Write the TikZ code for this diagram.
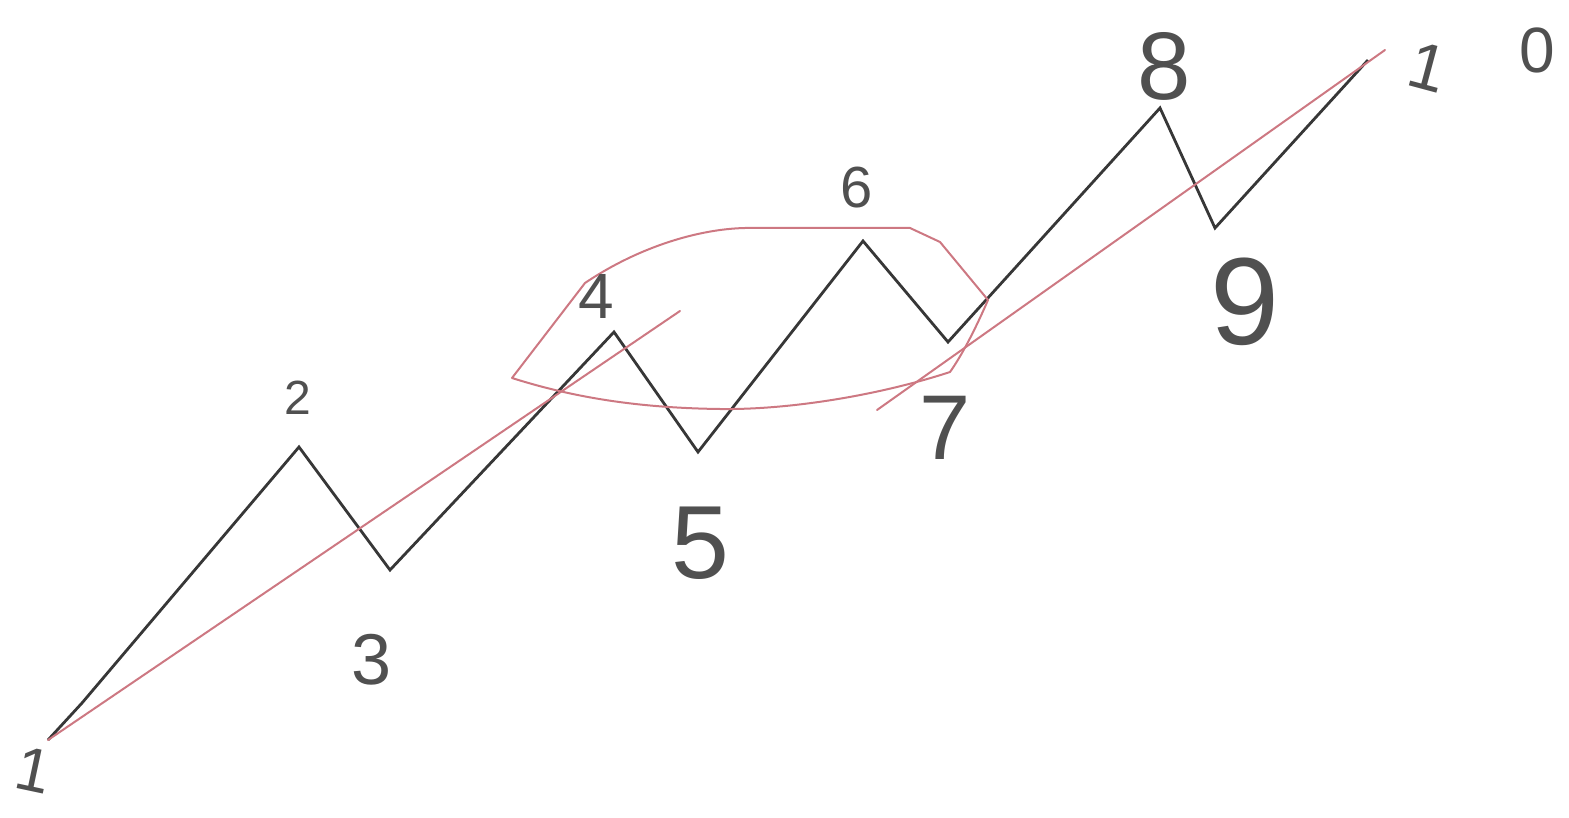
\documentclass[tikz,border=0pt]{standalone}
\usepackage{fontspec}
\setmainfont{Liberation Sans}
\definecolor{pen}{RGB}{55,55,55}
\definecolor{labpen}{RGB}{80,80,80}
\definecolor{redpen}{RGB}{205,120,130}
\begin{document}
\begin{tikzpicture}[x=1pt,y=-1pt,
  zig/.style={draw=pen,line width=2.8pt,line join=miter},
  redline/.style={draw=redpen,line width=2pt,line cap=round,line join=round},
  lab/.style={text=labpen,inner sep=0pt,font=\fontsize{#1}{#1}\selectfont},
  lab/.default=50]
\useasboundingbox (0,0) rectangle (1569,818);
% zigzag points
\coordinate (p0) at (48,740);
\coordinate (p1) at (82,703);
\coordinate (p2) at (299,447);
\coordinate (p3) at (390,570);
\coordinate (p4) at (614,332);
\coordinate (p5) at (698,452);
\coordinate (p6) at (863,241);
\coordinate (p7) at (948,342);
\coordinate (p8) at (1160,108);
\coordinate (p9) at (1215,228);
\coordinate (p10) at (1368,60);
% red guide points
\coordinate (r1e) at (680,311);
\coordinate (r2s) at (877,410);
\coordinate (r2e) at (1385,50);
\coordinate (la) at (512,378);
\coordinate (lb) at (585,283);
\coordinate (lc) at (745,228);
\coordinate (ld) at (910,228);
\coordinate (le) at (940,242);
\coordinate (lf) at (988,300);
\coordinate (lg) at (950,372);
% black zigzag
\draw[zig] (p0) -- (p1) -- (p2) -- (p3) -- (p4) -- (p5) -- (p6) -- (p7) -- (p8) -- (p9) -- (p10);
% red lines
\draw[redline] (p0) -- (r1e);
\draw[redline] (r2s) -- (r2e);
\draw[redline] (la) -- (lb) .. controls (640,246) and (700,229) .. (lc) -- (ld) -- (le) -- (lf)
  .. controls (975,330) and (962,355) .. (lg)
  .. controls (880,395) and (790,410) .. (720,409)
  .. controls (640,408) and (575,398) .. (la);
% labels
\node[lab=62,rotate=-12] (l1) at (34,770) {1};
\node[lab=48] (l2) at (298,398) {2};
\node[lab=72] (l3) at (372,660) {3};
\node[lab=64] (l4) at (596,296) {4};
\node[lab=104] (l5) at (700,543) {5};
\node[lab=58] (l6) at (857,188) {6};
\node[lab=92] (l7) at (945,428) {7};
\node[lab=96] (l8) at (1164,66) {8};
\node[lab=124] (l9) at (1245,302) {9};
\node[lab=66,rotate=-15] (l10a) at (1428,67) {1};
\node[lab=64] (l10b) at (1537,50) {0};
\end{tikzpicture}
\end{document}
